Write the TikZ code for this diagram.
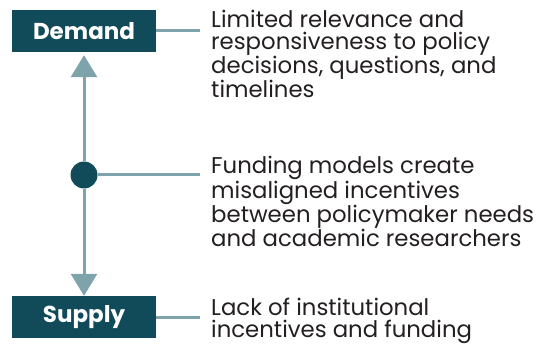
\documentclass[tikz,border=0pt]{standalone}
\usepackage{fontspec}
\setmainfont{Poppins}
\usetikzlibrary{arrows.meta}
\definecolor{boxteal}{HTML}{114B5A}
\definecolor{linegray}{HTML}{7FA3AA}
\definecolor{txt}{HTML}{231F20}
\begin{document}
\begin{tikzpicture}[x=1pt,y=-1pt,
  lab/.style={fill=boxteal,text=white,font=\fontsize{23}{24}\selectfont\bfseries,minimum width=144pt,minimum height=42pt,inner sep=0pt},
  desc/.style={anchor=base west,align=left,text=txt,inner sep=0pt,font=\fontsize{22.8}{22}\selectfont},
  conn/.style={draw=linegray,line width=3pt},
  arr/.style={conn,-{Triangle[width=26pt,length=22pt]}}]
\useasboundingbox (0,0) rectangle (551,347);
\node[lab] (demand) at (84,31) {Demand};
\node[lab] (supply) at (84,317) {Supply};
\node[circle,fill=boxteal,minimum size=27pt,inner sep=0pt] (dot) at (84,175) {};
\draw[arr,shorten >=3pt] (dot) -- (demand);
\draw[arr] (dot) -- (supply);
\coordinate (c1) at (200,31);
\coordinate (c2) at (200,175);
\coordinate (c3) at (200,317);
\draw[conn] (demand.east) -- (c1);
\draw[conn] (dot.east) -- (c2);
\draw[conn] (supply.east) -- (c3);
\node[desc] (t1) at (211,98) {Limited relevance and\\responsiveness to policy\\decisions, questions, and\\timelines};
\node[desc] (t2) at (211,247) {Funding models create\\misaligned incentives\\between policymaker needs\\and academic researchers};
\node[desc] (t3) at (211,337) {Lack of institutional\\incentives and funding};
\end{tikzpicture}
\end{document}
